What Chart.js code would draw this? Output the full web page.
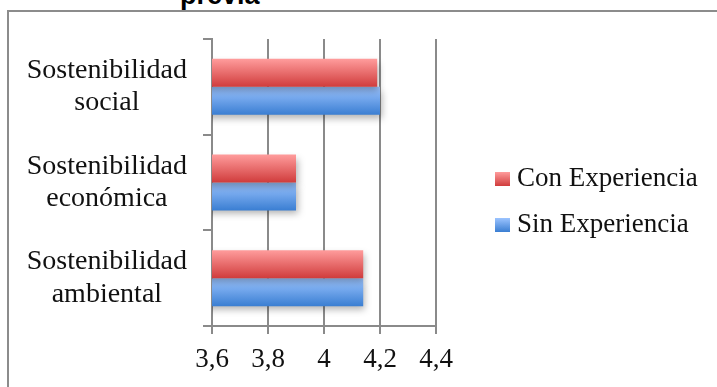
<!DOCTYPE html>
<html>
<head>
<meta charset="utf-8">
<script src="https://cdn.jsdelivr.net/npm/chart.js@4.4.1/dist/chart.umd.min.js"></script>
<style>
    html, body { margin: 0; padding: 0; background: #fff; overflow: hidden; }
    #wrap { position: relative; width: 717px; height: 387px; }
    #frame {
        position: absolute; left: 7px; top: 10px; width: 800px; height: 500px;
        border-left: 2px solid #8c8c8c; border-top: 2px solid #8c8c8c;
    }
    #title {
        position: absolute; left: 180px; top: -20px; line-height: 27px;
        font: bold 27px 'Liberation Sans', Arial, sans-serif; color: #000;
        white-space: nowrap;
    }
    canvas { position: absolute; left: 0; top: 0; }
    .legend-item {
        position: absolute; left: 495px; height: 32px; line-height: 32px;
        font: 27px 'Liberation Serif', serif; color: #111; white-space: nowrap;
    }
    .legend-item i {
        position: absolute; left: 0; top: 10px; width: 15px; height: 14px;
    }
    .legend-item span { position: absolute; left: 22px; top: 0; }
</style>
</head>
<body>
<div id="wrap">
    <div id="frame"></div>
    <div id="title">previa</div>
    <canvas id="chart" width="717" height="387"></canvas>
    <div id="legend"></div>
</div>
<script>
const categories = [
    ['Sostenibilidad', 'social'],
    ['Sostenibilidad', 'económica'],
    ['Sostenibilidad', 'ambiental']
];
const seriesNames = ['Con Experiencia', 'Sin Experiencia'];
const conExperiencia = [4.19, 3.9, 4.14];
const sinExperiencia = [4.2, 3.9, 4.14];
const xTickLabels = ['3,6', '3,8', '4', '4,2', '4,4'];

// top / bottom colours of each bar's vertical gradient
const gradientStops = [
    ['#ff9c9c', '#d03c3c'],
    ['#9cc4ff', '#3a7ed2']
];

const FONT = "'Liberation Serif', serif";
const GRID = '#8a8a8a';
const CAT_PCT = 0.585;

function barGradient(ctx, datasetIndex) {
    const chart = ctx.chart;
    const yScale = chart.scales.y;
    if (!yScale || !chart.chartArea) return gradientStops[datasetIndex][1];
    const center = yScale.getPixelForValue(ctx.dataIndex);
    const catSize = (yScale.bottom - yScale.top) / categories.length;
    const thick = catSize * CAT_PCT / 2;
    const top = datasetIndex === 0 ? center - thick : center;
    const g = chart.ctx.createLinearGradient(0, top, 0, top + thick);
    g.addColorStop(0, gradientStops[datasetIndex][0]);
    g.addColorStop(1, gradientStops[datasetIndex][1]);
    return g;
}

// soft shadow under the bars
const barShadow = {
    id: 'barShadow',
    beforeDatasetsDraw(chart) {
        const c = chart.ctx;
        c.save();
        c.shadowColor = 'rgba(0, 0, 0, 0.3)';
        c.shadowBlur = 7;
        c.shadowOffsetX = 2;
        c.shadowOffsetY = 4;
    },
    afterDatasetsDraw(chart) {
        chart.ctx.restore();
    }
};

new Chart(document.getElementById('chart'), {
    type: 'bar',
    data: {
        labels: categories,
        datasets: [
            {
                label: seriesNames[0],
                data: conExperiencia,
                backgroundColor: ctx => barGradient(ctx, 0)
            },
            {
                label: seriesNames[1],
                data: sinExperiencia,
                backgroundColor: ctx => barGradient(ctx, 1)
            }
        ]
    },
    options: {
        indexAxis: 'y',
        responsive: false,
        animation: false,
        devicePixelRatio: 1,
        datasets: {
            bar: {
                barPercentage: 1,
                categoryPercentage: CAT_PCT,
                borderWidth: 0
            }
        },
        layout: {
            padding: { left: 0, top: 39, right: 281, bottom: 0 }
        },
        plugins: {
            legend: { display: false },
            tooltip: { enabled: false },
            title: { display: false }
        },
        scales: {
            x: {
                min: 3.6,
                max: 4.4,
                ticks: {
                    stepSize: 0.2,
                    padding: 10,
                    color: '#111',
                    font: { family: FONT, size: 27 },
                    maxRotation: 0,
                    callback: (v, i) => xTickLabels[i]
                },
                grid: { color: GRID, lineWidth: 2, tickLength: 8 },
                border: { color: GRID, width: 2 },
                afterFit: scale => { scale.height = 61; }
            },
            y: {
                ticks: {
                    crossAlign: 'center',
                    padding: 16,
                    color: '#111',
                    font: { family: FONT, size: 28, lineHeight: 1.15 }
                },
                grid: { drawOnChartArea: false, color: GRID, lineWidth: 2, tickLength: 9 },
                border: { color: GRID, width: 2 },
                afterFit: scale => {
                    scale.width = 212;
                    // keep the plot top fixed, labels sit inside their bands
                    scale.paddingTop = 0;
                    scale.paddingBottom = 0;
                }
            }
        }
    },
    plugins: [barShadow]
});

// legend drawn as html next to the plot
const legend = document.getElementById('legend');
seriesNames.forEach((name, i) => {
    const item = document.createElement('div');
    item.className = 'legend-item';
    item.style.top = (162 + i * 46) + 'px';
    const box = document.createElement('i');
    box.style.background = `linear-gradient(${gradientStops[i][0]}, ${gradientStops[i][1]})`;
    const text = document.createElement('span');
    text.textContent = name;
    item.appendChild(box);
    item.appendChild(text);
    legend.appendChild(item);
});
</script>
</body>
</html>
